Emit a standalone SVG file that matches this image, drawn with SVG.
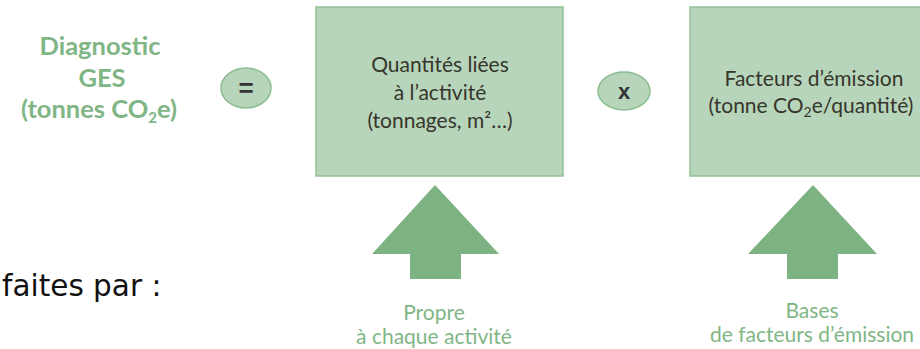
<svg xmlns="http://www.w3.org/2000/svg" width="920" height="349" viewBox="0 0 920 349">
<style>
.box{fill:#b6d5ba;stroke:#92c196;stroke-width:1.5}
.op{fill:#b6d5ba;stroke:#8dbd91;stroke-width:1.5}
.arrow{fill:#7db383}
.green{font-family:Lato,"Open Sans","Liberation Sans",sans-serif;fill:#80b685;text-anchor:middle}
.title{font-weight:700;font-size:25.5px}
.inner{font-family:Lato,"Open Sans","Liberation Sans",sans-serif;fill:#36362c;font-size:21px;text-anchor:middle}
.sym{font-family:"Liberation Sans",Arial,sans-serif;font-weight:700;fill:#333;text-anchor:middle}
.lbl{font-size:21px}
.plain{font-family:"DejaVu Sans",Verdana,sans-serif;fill:#111;font-size:29.5px}
</style>
<rect width="920" height="349" fill="#ffffff"/>

<g id="result">
<text class="green title" x="100" y="55">Diagnostic</text>
<text class="green title" x="102" y="87">GES</text>
<text class="green title" x="99" y="118">(tonnes CO<tspan font-size="15" dy="5">2</tspan><tspan dy="-5">e)</tspan></text>
</g>

<g id="equals">
<ellipse class="op" cx="246" cy="88" rx="25" ry="20"/>
<text class="sym" x="246" y="97" font-size="26">=</text>
</g>

<g id="quantites">
<rect class="box" x="316" y="7" width="247" height="169"/>
<text class="inner" x="440" y="72">Quantités liées</text>
<text class="inner" x="440" y="100">à l’activité</text>
<text class="inner" x="440" y="128">(tonnages, m²…)</text>
</g>

<g id="times">
<ellipse class="op" cx="624" cy="91" rx="26" ry="19"/>
<text class="sym" x="624" y="99" font-size="22">x</text>
</g>

<g id="facteurs">
<rect class="box" x="690" y="7" width="240" height="169"/>
<text class="inner" x="814" y="86">Facteurs d’émission</text>
<text class="inner" x="811" y="113">(tonne CO<tspan font-size="14" dy="4">2</tspan><tspan dy="-4">e/quantité)</tspan></text>
</g>

<g id="connectors">
<polygon class="arrow" points="435,185 499,254 461,254 461,279 410,279 410,254 372,254"/>
<polygon class="arrow" points="813,185 877,254 838,254 838,279 787,279 787,254 748,254"/>
</g>

<g id="faites">
<text class="plain" x="2" y="296">faites par :</text>
</g>

<g id="label-propre">
<text class="green lbl" x="434" y="320">Propre</text>
<text class="green lbl" x="434" y="344">à chaque activité</text>
</g>

<g id="label-bases">
<text class="green lbl" x="812" y="318">Bases</text>
<text class="green lbl" x="812" y="342">de facteurs d’émission</text>
</g>
</svg>
